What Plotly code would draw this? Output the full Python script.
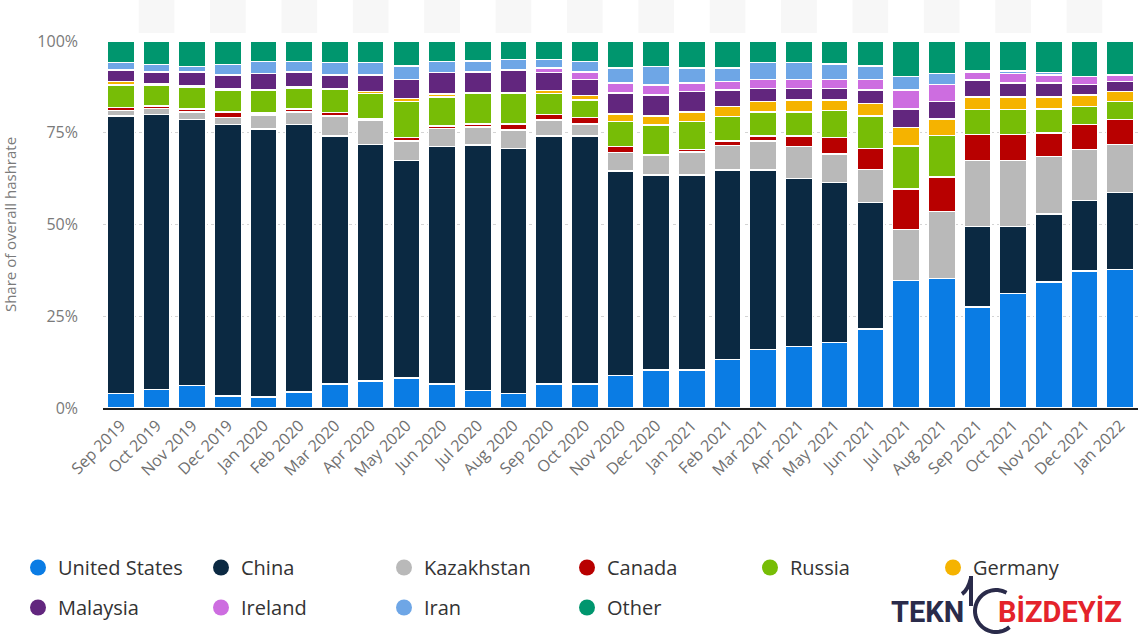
import math
import plotly.graph_objects as go

months = ["Sep 2019", "Oct 2019", "Nov 2019", "Dec 2019", "Jan 2020", "Feb 2020", "Mar 2020",
          "Apr 2020", "May 2020", "Jun 2020", "Jul 2020", "Aug 2020", "Sep 2020", "Oct 2020",
          "Nov 2020", "Dec 2020", "Jan 2021", "Feb 2021", "Mar 2021", "Apr 2021", "May 2021",
          "Jun 2021", "Jul 2021", "Aug 2021", "Sep 2021", "Oct 2021", "Nov 2021", "Dec 2021",
          "Jan 2022"]

united_states = [3.9, 5.1, 6.2, 3.3, 3.0, 4.4, 6.6, 7.3, 8.2, 6.6, 4.8, 3.9, 6.6, 6.6,
                 8.9, 10.3, 10.3, 13.2, 15.9, 16.8, 17.8, 21.5, 34.8, 35.3, 27.5, 31.2, 34.4, 37.3, 37.7]
china = [75.6, 74.9, 72.4, 74.0, 73.0, 72.9, 67.5, 64.5, 59.3, 64.6, 66.8, 66.8, 67.5, 67.5,
         55.7, 53.2, 53.2, 51.6, 48.9, 45.7, 43.7, 34.5, 0.0, 0.0, 22.0, 18.2, 18.4, 19.2, 21.0]
kazakhstan = [1.5, 1.6, 2.1, 1.9, 3.8, 3.4, 5.4, 6.7, 5.3, 5.0, 5.0, 5.0, 4.4, 3.3,
              5.0, 5.4, 6.3, 6.7, 7.9, 8.7, 7.7, 9.0, 13.9, 18.2, 18.0, 18.1, 15.7, 14.0, 13.1]
canada = [0.9, 0.7, 0.8, 1.5, 0.6, 0.8, 1.0, 0.2, 0.9, 0.7, 0.8, 1.7, 1.5, 1.8,
          1.6, 0.0, 0.7, 1.3, 1.4, 2.9, 4.5, 5.7, 11.0, 9.5, 7.0, 7.0, 6.5, 6.8, 6.8]
russia = [6.1, 5.7, 6.0, 5.9, 6.2, 5.6, 6.3, 7.0, 9.8, 7.9, 8.3, 8.3, 5.7, 4.7,
          6.8, 8.2, 7.5, 6.6, 6.6, 6.6, 7.3, 8.8, 11.7, 11.2, 6.9, 6.9, 6.5, 4.8, 4.9]
germany = [0.9, 0.3, 0.2, 0.3, 0.2, 0.3, 0.2, 0.5, 0.9, 0.7, 0.3, 0.2, 0.8, 1.2,
           2.1, 2.4, 2.7, 2.7, 2.8, 3.2, 2.9, 3.5, 5.1, 4.6, 3.4, 3.4, 3.3, 3.2, 2.7]
malaysia = [3.2, 3.3, 3.9, 3.8, 4.4, 4.2, 3.7, 4.5, 5.1, 5.9, 5.6, 6.2, 4.9, 4.4,
            5.8, 5.8, 5.5, 4.5, 3.6, 3.2, 3.2, 3.6, 5.0, 4.7, 4.6, 3.7, 3.7, 2.9, 2.7]
ireland = [0.0, 0.0, 0.0, 0.0, 0.0, 0.0, 0.0, 0.0, 0.0, 0.0, 0.0, 0.0, 1.3, 2.1,
           2.6, 2.7, 2.3, 2.3, 2.4, 2.4, 2.4, 2.9, 5.1, 4.7, 2.2, 2.7, 2.2, 2.1, 1.8]
iran = [2.1, 2.0, 1.4, 2.9, 3.2, 2.8, 3.5, 3.5, 3.7, 3.0, 2.9, 2.9, 2.3, 2.8,
        4.2, 5.0, 4.2, 3.8, 4.7, 4.7, 4.2, 3.7, 3.7, 3.0, 0.3, 0.6, 0.7, 0.0, 0.0]
other = [5.8, 6.4, 7.0, 6.4, 5.6, 5.6, 5.8, 5.8, 6.8, 5.6, 5.5, 5.0, 5.0, 5.6,
         7.3, 7.0, 7.3, 7.3, 5.8, 5.8, 6.3, 6.8, 9.7, 8.8, 8.1, 8.2, 8.6, 9.7, 9.3]

y_ticks = [0, 25, 50, 75, 100]
y_tick_labels = ["0%", "25%", "50%", "75%", "100%"]

series = [
    ("United States", united_states, "#0a7ce4", "legend"),
    ("China", china, "#0b2942", "legend"),
    ("Kazakhstan", kazakhstan, "#b9b9b9", "legend"),
    ("Canada", canada, "#b80000", "legend"),
    ("Russia", russia, "#77bd06", "legend"),
    ("Germany", germany, "#f5b300", "legend"),
    ("Malaysia", malaysia, "#62267e", "legend2"),
    ("Ireland", ireland, "#cd6de0", "legend2"),
    ("Iran", iran, "#6ea6e6", "legend2"),
    ("Other", other, "#00966e", "legend2"),
]

W, H = 1138, 640
L, R, T, B = 103, 0, 41, 232
PW, PH = W - L - R, H - T - B


def px_x(px):
    return (px - L) / PW


def px_y(py):
    return (H - B - py) / PH


FONT = "Open Sans"
fig = go.Figure()

for name, vals, color, lg in series:
    fig.add_trace(go.Bar(
        x=months, y=vals, name=name, marker_color=color,
        marker_line_color="white", marker_line_width=1.5,
        showlegend=False,
    ))

for name, vals, color, lg in series:
    fig.add_trace(go.Scatter(
        x=[None], y=[None], mode="markers", name=name,
        marker=dict(symbol="circle", size=17, color=color),
        legend=lg, showlegend=True,
    ))

# light alternating column stripes above the plot
shapes = []
for i in range(1, len(months), 2):
    shapes.append(dict(type="rect", xref="x", yref="paper",
                       x0=i - 0.5, x1=i + 0.5, y0=px_y(33), y1=px_y(0),
                       fillcolor="#f7f7f7", line_width=0, layer="below"))

# watermark logo stroke (stem + arc)
cx, cy, r = 996, 611, 21
pts = []
for k in range(0, 41):
    a = math.radians(-50 - k * (250 / 40))
    pts.append((cx + r * math.cos(a), cy - r * math.sin(a)))
path = "M {} {} L {} {} ".format(px_x(971), px_y(576), px_x(971), px_y(606))
path += "M " + " L ".join("{} {}".format(px_x(x), px_y(y)) for x, y in pts)
shapes.append(dict(type="path", xref="paper", yref="paper", path=path,
                   line=dict(color="#2a2b4a", width=4)))
shapes.append(dict(type="path", xref="paper", yref="paper",
                   path="M {} {} Q {} {} {} {}".format(px_x(971), px_y(578), px_x(968), px_y(590),
                                                        px_x(962), px_y(594)),
                   line=dict(color="#2a2b4a", width=4)))

legend_common = dict(orientation="h", xref="paper", yref="paper",
                     xanchor="left", yanchor="top",
                     entrywidth=138, entrywidthmode="pixels", traceorder="normal",
                     font=dict(family=FONT, size=20, color="#333333"),
                     itemclick=False, bgcolor="rgba(0,0,0,0)")

fig.update_layout(
    width=W, height=H,
    margin=dict(l=L, r=R, t=T, b=B, autoexpand=False),
    barmode="stack", bargap=0.24,
    plot_bgcolor="white", paper_bgcolor="white",
    font=dict(family=FONT, color="#6e6e6e", size=15),
    shapes=shapes,
    legend=dict(x=px_x(18), y=px_y(548), **legend_common),
    legend2=dict(x=px_x(18), y=px_y(588), **legend_common),
    annotations=[
        dict(text="<b>TEKN</b>", xref="paper", yref="paper", x=px_x(889),
             y=px_y(612), xanchor="left", yanchor="middle", showarrow=False,
             font=dict(family="Roboto", size=29, color="#2a2b4a")),
        dict(text="<b>BİZDEYİZ</b>", xref="paper", yref="paper", x=px_x(996),
             y=px_y(612), xanchor="left", yanchor="middle", showarrow=False,
             font=dict(family="Roboto", size=29, color="#e4232b")),
    ],
)

fig.update_xaxes(
    type="category", tickangle=-45, showgrid=False, automargin=False,
    showline=True, linecolor="#1e1e1e", linewidth=2,
    tickfont=dict(size=16, color="#707070"), ticks="",
    range=[-0.5, len(months) - 0.5],
)
fig.update_yaxes(
    range=[0, 100], tickvals=y_ticks, ticktext=y_tick_labels, automargin=False,
    showgrid=True, gridcolor="#d4d4d4", griddash="dot", gridwidth=1,
    zeroline=False, showline=False, ticks="",
    ticklabelstandoff=24,
    tickfont=dict(size=16, color="#7a7a7a"),
    title=dict(text="Share of overall hashrate", standoff=17,
               font=dict(size=15, color="#7a7a7a")),
)

fig.write_html("out.html", config={"displayModeBar": False},
               post_script="document.body.style.margin='0px';")
